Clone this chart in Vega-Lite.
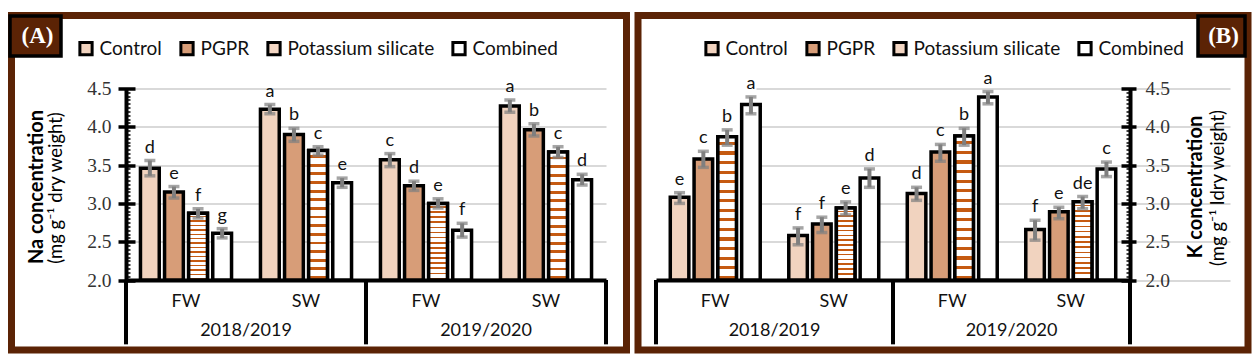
{
"$schema": "https://vega.github.io/schema/vega-lite/v6.json",
"background": "white",
"padding": {"left": 7.5, "top": 10.5, "right": 0, "bottom": 0},
"spacing": 3.5,
"config": {"font": "Lato", "view": {"stroke": "#5b2305", "strokeWidth": 7}},
"datasets": {
"na": [
{"season":"2018/2019","water":"FW","grp":"2018/2019|FW","treatment":"Control","value":3.46,"lo":3.36,"hi":3.56,"letter":"d","panel":"(A)"},
{"season":"2018/2019","water":"FW","grp":"2018/2019|FW","treatment":"PGPR","value":3.15,"lo":3.07,"hi":3.22,"letter":"e","panel":"(A)"},
{"season":"2018/2019","water":"FW","grp":"2018/2019|FW","treatment":"Potassium silicate","value":2.87,"lo":2.81,"hi":2.93,"letter":"f","panel":"(A)"},
{"season":"2018/2019","water":"FW","grp":"2018/2019|FW","treatment":"Combined","value":2.61,"lo":2.55,"hi":2.67,"letter":"g","panel":"(A)"},
{"season":"2018/2019","water":"SW","grp":"2018/2019|SW","treatment":"Control","value":4.23,"lo":4.17,"hi":4.29,"letter":"a","panel":"(A)"},
{"season":"2018/2019","water":"SW","grp":"2018/2019|SW","treatment":"PGPR","value":3.90,"lo":3.81,"hi":3.98,"letter":"b","panel":"(A)"},
{"season":"2018/2019","water":"SW","grp":"2018/2019|SW","treatment":"Potassium silicate","value":3.69,"lo":3.63,"hi":3.74,"letter":"c","panel":"(A)"},
{"season":"2018/2019","water":"SW","grp":"2018/2019|SW","treatment":"Combined","value":3.27,"lo":3.21,"hi":3.33,"letter":"e","panel":"(A)"},
{"season":"2019/2020","water":"FW","grp":"2019/2020|FW","treatment":"Control","value":3.57,"lo":3.48,"hi":3.65,"letter":"c","panel":"(A)"},
{"season":"2019/2020","water":"FW","grp":"2019/2020|FW","treatment":"PGPR","value":3.23,"lo":3.17,"hi":3.29,"letter":"d","panel":"(A)"},
{"season":"2019/2020","water":"FW","grp":"2019/2020|FW","treatment":"Potassium silicate","value":3.00,"lo":2.94,"hi":3.06,"letter":"e","panel":"(A)"},
{"season":"2019/2020","water":"FW","grp":"2019/2020|FW","treatment":"Combined","value":2.65,"lo":2.56,"hi":2.74,"letter":"f","panel":"(A)"},
{"season":"2019/2020","water":"SW","grp":"2019/2020|SW","treatment":"Control","value":4.27,"lo":4.19,"hi":4.35,"letter":"a","panel":"(A)"},
{"season":"2019/2020","water":"SW","grp":"2019/2020|SW","treatment":"PGPR","value":3.96,"lo":3.88,"hi":4.04,"letter":"b","panel":"(A)"},
{"season":"2019/2020","water":"SW","grp":"2019/2020|SW","treatment":"Potassium silicate","value":3.67,"lo":3.60,"hi":3.74,"letter":"c","panel":"(A)"},
{"season":"2019/2020","water":"SW","grp":"2019/2020|SW","treatment":"Combined","value":3.31,"lo":3.24,"hi":3.38,"letter":"d","panel":"(A)"}
],
"k": [
{"season":"2018/2019","water":"FW","grp":"2018/2019|FW","treatment":"Control","value":3.08,"lo":3.00,"hi":3.14,"letter":"e","panel":"(B)"},
{"season":"2018/2019","water":"FW","grp":"2018/2019|FW","treatment":"PGPR","value":3.58,"lo":3.47,"hi":3.68,"letter":"c","panel":"(B)"},
{"season":"2018/2019","water":"FW","grp":"2018/2019|FW","treatment":"Potassium silicate","value":3.87,"lo":3.76,"hi":3.96,"letter":"b","panel":"(B)"},
{"season":"2018/2019","water":"FW","grp":"2018/2019|FW","treatment":"Combined","value":4.29,"lo":4.17,"hi":4.39,"letter":"a","panel":"(B)"},
{"season":"2018/2019","water":"SW","grp":"2018/2019|SW","treatment":"Control","value":2.58,"lo":2.46,"hi":2.68,"letter":"f","panel":"(B)"},
{"season":"2018/2019","water":"SW","grp":"2018/2019|SW","treatment":"PGPR","value":2.73,"lo":2.62,"hi":2.82,"letter":"f","panel":"(B)"},
{"season":"2018/2019","water":"SW","grp":"2018/2019|SW","treatment":"Potassium silicate","value":2.94,"lo":2.85,"hi":3.02,"letter":"e","panel":"(B)"},
{"season":"2018/2019","water":"SW","grp":"2018/2019|SW","treatment":"Combined","value":3.33,"lo":3.21,"hi":3.45,"letter":"d","panel":"(B)"},
{"season":"2019/2020","water":"FW","grp":"2019/2020|FW","treatment":"Control","value":3.13,"lo":3.04,"hi":3.21,"letter":"d","panel":"(B)"},
{"season":"2019/2020","water":"FW","grp":"2019/2020|FW","treatment":"PGPR","value":3.67,"lo":3.55,"hi":3.77,"letter":"c","panel":"(B)"},
{"season":"2019/2020","water":"FW","grp":"2019/2020|FW","treatment":"Potassium silicate","value":3.88,"lo":3.76,"hi":3.98,"letter":"b","panel":"(B)"},
{"season":"2019/2020","water":"FW","grp":"2019/2020|FW","treatment":"Combined","value":4.39,"lo":4.30,"hi":4.46,"letter":"a","panel":"(B)"},
{"season":"2019/2020","water":"SW","grp":"2019/2020|SW","treatment":"Control","value":2.66,"lo":2.52,"hi":2.78,"letter":"f","panel":"(B)"},
{"season":"2019/2020","water":"SW","grp":"2019/2020|SW","treatment":"PGPR","value":2.89,"lo":2.80,"hi":2.95,"letter":"e","panel":"(B)"},
{"season":"2019/2020","water":"SW","grp":"2019/2020|SW","treatment":"Potassium silicate","value":3.02,"lo":2.93,"hi":3.09,"letter":"de","panel":"(B)"},
{"season":"2019/2020","water":"SW","grp":"2019/2020|SW","treatment":"Combined","value":3.45,"lo":3.35,"hi":3.54,"letter":"c","panel":"(B)"}
]
},
"resolve": {"scale": {"x": "independent", "y": "independent", "xOffset": "independent", "fill": "independent", "stroke": "independent"}, "legend": {"fill": "independent", "stroke": "independent"}},
"hconcat": [
{
"width": 615, "height": 334.5,
"data": {"name": "na"},
"resolve": {"axis": {"y": "independent"}},
"layer": [
{"mark": {"type": "bar", "strokeWidth": 3.5, "strokeJoin": "miter"},
 "encoding": {
  "x": {"field": "grp", "type": "nominal", "scale": {"domain": ["2018/2019|FW","2018/2019|SW","2019/2020|FW","2019/2020|SW"], "range": [114.5, 594.5], "paddingInner": 0, "paddingOuter": 0},
        "axis": {"orient": "bottom", "offset": -70, "title": null, "labelExpr": "split(datum.label, '|')[1]", "labelAngle": 0, "ticks": false, "grid": false, "domain": true, "domainColor": "#000000", "domainWidth": 4, "labelPadding": 12, "labelFont": "Lato", "labelFontSize": 18, "labelColor": "#111111"}},
  "xOffset": {"field": "treatment", "type": "nominal", "scale": {"domain": ["Control","PGPR","Potassium silicate","Combined"], "paddingInner": 0.22, "paddingOuter": 0.6}},
  "y": {"field": "value", "type": "quantitative", "scale": {"domain": [2, 4.5], "range": [264.5, 73], "nice": false, "zero": false},
        "axis": {"orient": "left", "offset": -123.5, "values": [2,2.5,3,3.5,4,4.5], "format": ".1f", "domain": false, "ticks": true, "tickSize": 17, "tickWidth": 3.5, "tickColor": "#000000", "labelPadding": 7, "labelFont": "Liberation Serif", "labelFontSize": 19.5, "labelColor": "#333333", "grid": true, "gridColor": "#d9d9d9", "gridWidth": 2, "title": "Na concentration", "titleFont": "Lato", "titleFontWeight": "bold", "titleFontSize": 20, "titleColor": "#000000", "titleAngle": -90, "titleX": -99, "titleY": 171, "titleAlign": "center", "titleBaseline": "middle"}},
  "y2": {"datum": 2},
  "fill": {"field": "treatment", "type": "nominal",
    "scale": {"domain": ["Control","PGPR","Potassium silicate","Combined"], "range": ["#f1d3bf","#d79d78","#f3d6c3","#ffffff"]},
    "legend": {"orient": "none", "legendX": 65, "legendY": 23.5, "direction": "horizontal", "title": null, "symbolType": "square", "symbolSize": 150, "symbolStrokeColor": "#000000", "symbolStrokeWidth": 3, "labelFont": "Lato", "labelFontSize": 19, "labelColor": "#111111", "labelOffset": 4, "columnPadding": 12, "padding": 0}},
  "stroke": {"field": "panel", "type": "nominal", "scale": {"range": ["#000000"]},
    "legend": {"orient": "none", "legendX": 2, "legendY": -1.5, "title": null, "symbolType": "M-1.275,-1H1.275V1H-1.275Z", "symbolSize": 1600, "symbolFillColor": "#5b2305", "symbolStrokeColor": "#000000", "symbolStrokeWidth": 3.5, "symbolOpacity": 1, "labelAlign": "center", "labelOffset": -20, "labelFont": "Liberation Serif", "labelFontWeight": "bold", "labelFontSize": 23, "labelColor": "#ffffff", "padding": 0}}
 }},
{"transform": [{"filter": "datum.treatment === 'Potassium silicate'"}],
 "mark": {"type": "bar", "strokeWidth": 3.5, "strokeJoin": "miter", "stroke": "#000000",
   "fill": {"gradient": "linear", "x1": 0, "y1": 0, "x2": 0, "y2": 1, "stops": [
      {"offset": 0, "color": "#ffffff"},
      {"offset": 0.036, "color": "#ffffff"},{"offset": 0.036, "color": "#c55a11"},{"offset": 0.058, "color": "#c55a11"},{"offset": 0.058, "color": "#ffffff"},
      {"offset": 0.1027, "color": "#ffffff"},{"offset": 0.1027, "color": "#c55a11"},{"offset": 0.1247, "color": "#c55a11"},{"offset": 0.1247, "color": "#ffffff"},
      {"offset": 0.1693, "color": "#ffffff"},{"offset": 0.1693, "color": "#c55a11"},{"offset": 0.1913, "color": "#c55a11"},{"offset": 0.1913, "color": "#ffffff"},
      {"offset": 0.236, "color": "#ffffff"},{"offset": 0.236, "color": "#c55a11"},{"offset": 0.258, "color": "#c55a11"},{"offset": 0.258, "color": "#ffffff"},
      {"offset": 0.3027, "color": "#ffffff"},{"offset": 0.3027, "color": "#c55a11"},{"offset": 0.3247, "color": "#c55a11"},{"offset": 0.3247, "color": "#ffffff"},
      {"offset": 0.3693, "color": "#ffffff"},{"offset": 0.3693, "color": "#c55a11"},{"offset": 0.3913, "color": "#c55a11"},{"offset": 0.3913, "color": "#ffffff"},
      {"offset": 0.436, "color": "#ffffff"},{"offset": 0.436, "color": "#c55a11"},{"offset": 0.458, "color": "#c55a11"},{"offset": 0.458, "color": "#ffffff"},
      {"offset": 0.5027, "color": "#ffffff"},{"offset": 0.5027, "color": "#c55a11"},{"offset": 0.5247, "color": "#c55a11"},{"offset": 0.5247, "color": "#ffffff"},
      {"offset": 0.5693, "color": "#ffffff"},{"offset": 0.5693, "color": "#c55a11"},{"offset": 0.5913, "color": "#c55a11"},{"offset": 0.5913, "color": "#ffffff"},
      {"offset": 0.636, "color": "#ffffff"},{"offset": 0.636, "color": "#c55a11"},{"offset": 0.658, "color": "#c55a11"},{"offset": 0.658, "color": "#ffffff"},
      {"offset": 0.7027, "color": "#ffffff"},{"offset": 0.7027, "color": "#c55a11"},{"offset": 0.7247, "color": "#c55a11"},{"offset": 0.7247, "color": "#ffffff"},
      {"offset": 0.7693, "color": "#ffffff"},{"offset": 0.7693, "color": "#c55a11"},{"offset": 0.7913, "color": "#c55a11"},{"offset": 0.7913, "color": "#ffffff"},
      {"offset": 0.836, "color": "#ffffff"},{"offset": 0.836, "color": "#c55a11"},{"offset": 0.858, "color": "#c55a11"},{"offset": 0.858, "color": "#ffffff"},
      {"offset": 0.9027, "color": "#ffffff"},{"offset": 0.9027, "color": "#c55a11"},{"offset": 0.9247, "color": "#c55a11"},{"offset": 0.9247, "color": "#ffffff"},
      {"offset": 0.9693, "color": "#ffffff"},{"offset": 0.9693, "color": "#c55a11"},{"offset": 0.9913, "color": "#c55a11"},{"offset": 0.9913, "color": "#ffffff"},
      {"offset": 1, "color": "#ffffff"}]}},
 "encoding": {
  "x": {"field": "grp", "type": "nominal"},
  "xOffset": {"field": "treatment", "type": "nominal", "scale": {"domain": ["Control","PGPR","Potassium silicate","Combined"], "paddingInner": 0.22, "paddingOuter": 0.6}},
  "y": {"field": "value", "type": "quantitative", "axis": null},
  "y2": {"datum": 2}
 }},
{"mark": {"type": "rule", "color": "#7f7f7f", "strokeWidth": 4},
 "encoding": {
  "x": {"field": "grp", "type": "nominal"},
  "xOffset": {"field": "treatment", "type": "nominal", "scale": {"domain": ["Control","PGPR","Potassium silicate","Combined"], "paddingInner": 0.22, "paddingOuter": 0.6}},
  "y": {"field": "lo", "type": "quantitative", "axis": {"orient": "left", "offset": -114.5, "tickCount": 50, "labels": false, "grid": false, "domain": true, "domainColor": "#000000", "domainWidth": 4, "ticks": true, "tickSize": -4, "tickWidth": 1.5, "tickColor": "#000000", "title": "(mg g⁻¹ dry weight)", "titleFont": "Lato", "titleFontWeight": "normal", "titleFontSize": 18.5, "titleColor": "#000000", "titleAngle": -90, "titleX": -71, "titleY": 172, "titleAlign": "center", "titleBaseline": "middle"}},
  "y2": {"field": "hi"}
 }},
{"mark": {"type": "tick", "color": "#7f7f7f", "thickness": 3.5, "size": 11},
 "encoding": {
  "x": {"field": "grp", "type": "nominal"},
  "xOffset": {"field": "treatment", "type": "nominal", "scale": {"domain": ["Control","PGPR","Potassium silicate","Combined"], "paddingInner": 0.22, "paddingOuter": 0.6}},
  "y": {"field": "hi", "type": "quantitative", "axis": null}
 }},
{"mark": {"type": "tick", "color": "#7f7f7f", "thickness": 3.5, "size": 11},
 "encoding": {
  "x": {"field": "grp", "type": "nominal"},
  "xOffset": {"field": "treatment", "type": "nominal", "scale": {"domain": ["Control","PGPR","Potassium silicate","Combined"], "paddingInner": 0.22, "paddingOuter": 0.6}},
  "y": {"field": "lo", "type": "quantitative", "axis": null}
 }},
{"mark": {"type": "text", "baseline": "alphabetic", "dy": -8, "font": "Lato", "fontSize": 18, "color": "#111111"},
 "encoding": {
  "x": {"field": "grp", "type": "nominal"},
  "xOffset": {"field": "treatment", "type": "nominal", "scale": {"domain": ["Control","PGPR","Potassium silicate","Combined"], "paddingInner": 0.22, "paddingOuter": 0.6}},
  "y": {"field": "hi", "type": "quantitative", "axis": null},
  "text": {"field": "letter"}
 }},
{"transform": [{"filter": "datum.water === 'FW' && datum.treatment === 'Control'"}],
 "mark": {"type": "rule", "color": "#000000", "strokeWidth": 4},
 "encoding": {
  "x": {"field": "grp", "type": "nominal", "bandPosition": 0},
  "y": {"datum": 2, "axis": null},
  "y2": {"datum": 1.16}
 }},
{"transform": [{"filter": "datum.grp === '2019/2020|SW' && datum.treatment === 'Control'"}],
 "mark": {"type": "rule", "color": "#000000", "strokeWidth": 4},
 "encoding": {
  "x": {"field": "grp", "type": "nominal", "bandPosition": 1},
  "y": {"datum": 2, "axis": null},
  "y2": {"datum": 1.16}
 }},
{"transform": [{"filter": "datum.water === 'FW' && datum.treatment === 'Control'"}],
 "mark": {"type": "text", "font": "Lato", "fontSize": 18, "color": "#111111", "baseline": "middle"},
 "encoding": {
  "x": {"field": "grp", "type": "nominal", "bandPosition": 1},
  "y": {"datum": 1.33, "axis": null},
  "text": {"field": "season"}
 }}
]
},
{
"width": 610, "height": 334.5,
"data": {"name": "k"},
"resolve": {"axis": {"y": "independent"}},
"layer": [
{"mark": {"type": "bar", "strokeWidth": 3.5, "strokeJoin": "miter"},
 "encoding": {
  "x": {"field": "grp", "type": "nominal", "scale": {"domain": ["2018/2019|FW","2018/2019|SW","2019/2020|FW","2019/2020|SW"], "range": [18, 492], "paddingInner": 0, "paddingOuter": 0},
        "axis": {"orient": "bottom", "offset": -70, "title": null, "labelExpr": "split(datum.label, '|')[1]", "labelAngle": 0, "ticks": false, "grid": false, "domain": true, "domainColor": "#000000", "domainWidth": 4, "labelPadding": 12, "labelFont": "Lato", "labelFontSize": 18, "labelColor": "#111111"}},
  "xOffset": {"field": "treatment", "type": "nominal", "scale": {"domain": ["Control","PGPR","Potassium silicate","Combined"], "paddingInner": 0.22, "paddingOuter": 0.6}},
  "y": {"field": "value", "type": "quantitative", "scale": {"domain": [2, 4.5], "range": [264.5, 73], "nice": false, "zero": false},
        "axis": {"orient": "right", "offset": -127, "values": [2,2.5,3,3.5,4,4.5], "format": ".1f", "domain": false, "ticks": true, "tickSize": 15, "tickWidth": 3.5, "tickColor": "#000000", "labelPadding": 9, "labelFont": "Liberation Serif", "labelFontSize": 19.5, "labelColor": "#333333", "grid": true, "gridColor": "#d9d9d9", "gridWidth": 2, "title": "K concentration", "titleFont": "Lato", "titleFontWeight": "bold", "titleFontSize": 20, "titleColor": "#000000", "titleAngle": -90, "titleX": 74, "titleY": 171, "titleAlign": "center", "titleBaseline": "middle"}},
  "y2": {"datum": 2},
  "fill": {"field": "treatment", "type": "nominal",
    "scale": {"domain": ["Control","PGPR","Potassium silicate","Combined"], "range": ["#f1d3bf","#d79d78","#f3d6c3","#ffffff"]},
    "legend": {"orient": "none", "legendX": 64.5, "legendY": 23.5, "direction": "horizontal", "title": null, "symbolType": "square", "symbolSize": 150, "symbolStrokeColor": "#000000", "symbolStrokeWidth": 3, "labelFont": "Lato", "labelFontSize": 19, "labelColor": "#111111", "labelOffset": 4, "columnPadding": 12, "padding": 0}},
  "stroke": {"field": "panel", "type": "nominal", "scale": {"range": ["#000000"]},
    "legend": {"orient": "none", "legendX": 561.5, "legendY": -1.5, "title": null, "symbolType": "M-1.175,-1H1.175V1H-1.175Z", "symbolSize": 1600, "symbolFillColor": "#5b2305", "symbolStrokeColor": "#000000", "symbolStrokeWidth": 3.5, "symbolOpacity": 1, "labelAlign": "center", "labelOffset": -20, "labelFont": "Liberation Serif", "labelFontWeight": "bold", "labelFontSize": 23, "labelColor": "#ffffff", "padding": 0}}
 }},
{"transform": [{"filter": "datum.treatment === 'Potassium silicate'"}],
 "mark": {"type": "bar", "strokeWidth": 3.5, "strokeJoin": "miter", "stroke": "#000000",
   "fill": {"gradient": "linear", "x1": 0, "y1": 0, "x2": 0, "y2": 1, "stops": [
      {"offset": 0, "color": "#ffffff"},
      {"offset": 0.036, "color": "#ffffff"},{"offset": 0.036, "color": "#c55a11"},{"offset": 0.058, "color": "#c55a11"},{"offset": 0.058, "color": "#ffffff"},
      {"offset": 0.1027, "color": "#ffffff"},{"offset": 0.1027, "color": "#c55a11"},{"offset": 0.1247, "color": "#c55a11"},{"offset": 0.1247, "color": "#ffffff"},
      {"offset": 0.1693, "color": "#ffffff"},{"offset": 0.1693, "color": "#c55a11"},{"offset": 0.1913, "color": "#c55a11"},{"offset": 0.1913, "color": "#ffffff"},
      {"offset": 0.236, "color": "#ffffff"},{"offset": 0.236, "color": "#c55a11"},{"offset": 0.258, "color": "#c55a11"},{"offset": 0.258, "color": "#ffffff"},
      {"offset": 0.3027, "color": "#ffffff"},{"offset": 0.3027, "color": "#c55a11"},{"offset": 0.3247, "color": "#c55a11"},{"offset": 0.3247, "color": "#ffffff"},
      {"offset": 0.3693, "color": "#ffffff"},{"offset": 0.3693, "color": "#c55a11"},{"offset": 0.3913, "color": "#c55a11"},{"offset": 0.3913, "color": "#ffffff"},
      {"offset": 0.436, "color": "#ffffff"},{"offset": 0.436, "color": "#c55a11"},{"offset": 0.458, "color": "#c55a11"},{"offset": 0.458, "color": "#ffffff"},
      {"offset": 0.5027, "color": "#ffffff"},{"offset": 0.5027, "color": "#c55a11"},{"offset": 0.5247, "color": "#c55a11"},{"offset": 0.5247, "color": "#ffffff"},
      {"offset": 0.5693, "color": "#ffffff"},{"offset": 0.5693, "color": "#c55a11"},{"offset": 0.5913, "color": "#c55a11"},{"offset": 0.5913, "color": "#ffffff"},
      {"offset": 0.636, "color": "#ffffff"},{"offset": 0.636, "color": "#c55a11"},{"offset": 0.658, "color": "#c55a11"},{"offset": 0.658, "color": "#ffffff"},
      {"offset": 0.7027, "color": "#ffffff"},{"offset": 0.7027, "color": "#c55a11"},{"offset": 0.7247, "color": "#c55a11"},{"offset": 0.7247, "color": "#ffffff"},
      {"offset": 0.7693, "color": "#ffffff"},{"offset": 0.7693, "color": "#c55a11"},{"offset": 0.7913, "color": "#c55a11"},{"offset": 0.7913, "color": "#ffffff"},
      {"offset": 0.836, "color": "#ffffff"},{"offset": 0.836, "color": "#c55a11"},{"offset": 0.858, "color": "#c55a11"},{"offset": 0.858, "color": "#ffffff"},
      {"offset": 0.9027, "color": "#ffffff"},{"offset": 0.9027, "color": "#c55a11"},{"offset": 0.9247, "color": "#c55a11"},{"offset": 0.9247, "color": "#ffffff"},
      {"offset": 0.9693, "color": "#ffffff"},{"offset": 0.9693, "color": "#c55a11"},{"offset": 0.9913, "color": "#c55a11"},{"offset": 0.9913, "color": "#ffffff"},
      {"offset": 1, "color": "#ffffff"}]}},
 "encoding": {
  "x": {"field": "grp", "type": "nominal"},
  "xOffset": {"field": "treatment", "type": "nominal", "scale": {"domain": ["Control","PGPR","Potassium silicate","Combined"], "paddingInner": 0.22, "paddingOuter": 0.6}},
  "y": {"field": "value", "type": "quantitative", "axis": null},
  "y2": {"datum": 2}
 }},
{"mark": {"type": "rule", "color": "#7f7f7f", "strokeWidth": 4},
 "encoding": {
  "x": {"field": "grp", "type": "nominal"},
  "xOffset": {"field": "treatment", "type": "nominal", "scale": {"domain": ["Control","PGPR","Potassium silicate","Combined"], "paddingInner": 0.22, "paddingOuter": 0.6}},
  "y": {"field": "lo", "type": "quantitative", "axis": {"orient": "right", "offset": -118, "tickCount": 50, "labels": false, "grid": false, "domain": true, "domainColor": "#000000", "domainWidth": 4, "ticks": true, "tickSize": -4, "tickWidth": 1.5, "tickColor": "#000000", "title": "(mg g⁻¹ ldry weight)", "titleFont": "Lato", "titleFontWeight": "normal", "titleFontSize": 18.5, "titleColor": "#000000", "titleAngle": -90, "titleX": 87, "titleY": 172, "titleAlign": "center", "titleBaseline": "middle"}},
  "y2": {"field": "hi"}
 }},
{"mark": {"type": "tick", "color": "#7f7f7f", "thickness": 3.5, "size": 11},
 "encoding": {
  "x": {"field": "grp", "type": "nominal"},
  "xOffset": {"field": "treatment", "type": "nominal", "scale": {"domain": ["Control","PGPR","Potassium silicate","Combined"], "paddingInner": 0.22, "paddingOuter": 0.6}},
  "y": {"field": "hi", "type": "quantitative", "axis": null}
 }},
{"mark": {"type": "tick", "color": "#7f7f7f", "thickness": 3.5, "size": 11},
 "encoding": {
  "x": {"field": "grp", "type": "nominal"},
  "xOffset": {"field": "treatment", "type": "nominal", "scale": {"domain": ["Control","PGPR","Potassium silicate","Combined"], "paddingInner": 0.22, "paddingOuter": 0.6}},
  "y": {"field": "lo", "type": "quantitative", "axis": null}
 }},
{"mark": {"type": "text", "baseline": "alphabetic", "dy": -8, "font": "Lato", "fontSize": 18, "color": "#111111"},
 "encoding": {
  "x": {"field": "grp", "type": "nominal"},
  "xOffset": {"field": "treatment", "type": "nominal", "scale": {"domain": ["Control","PGPR","Potassium silicate","Combined"], "paddingInner": 0.22, "paddingOuter": 0.6}},
  "y": {"field": "hi", "type": "quantitative", "axis": null},
  "text": {"field": "letter"}
 }},
{"transform": [{"filter": "datum.water === 'FW' && datum.treatment === 'Control'"}],
 "mark": {"type": "rule", "color": "#000000", "strokeWidth": 4},
 "encoding": {
  "x": {"field": "grp", "type": "nominal", "bandPosition": 0},
  "y": {"datum": 2, "axis": null},
  "y2": {"datum": 1.16}
 }},
{"transform": [{"filter": "datum.grp === '2019/2020|SW' && datum.treatment === 'Control'"}],
 "mark": {"type": "rule", "color": "#000000", "strokeWidth": 4},
 "encoding": {
  "x": {"field": "grp", "type": "nominal", "bandPosition": 1},
  "y": {"datum": 2, "axis": null},
  "y2": {"datum": 1.16}
 }},
{"transform": [{"filter": "datum.water === 'FW' && datum.treatment === 'Control'"}],
 "mark": {"type": "text", "font": "Lato", "fontSize": 18, "color": "#111111", "baseline": "middle"},
 "encoding": {
  "x": {"field": "grp", "type": "nominal", "bandPosition": 1},
  "y": {"datum": 1.33, "axis": null},
  "text": {"field": "season"}
 }}
]
}
]
}
